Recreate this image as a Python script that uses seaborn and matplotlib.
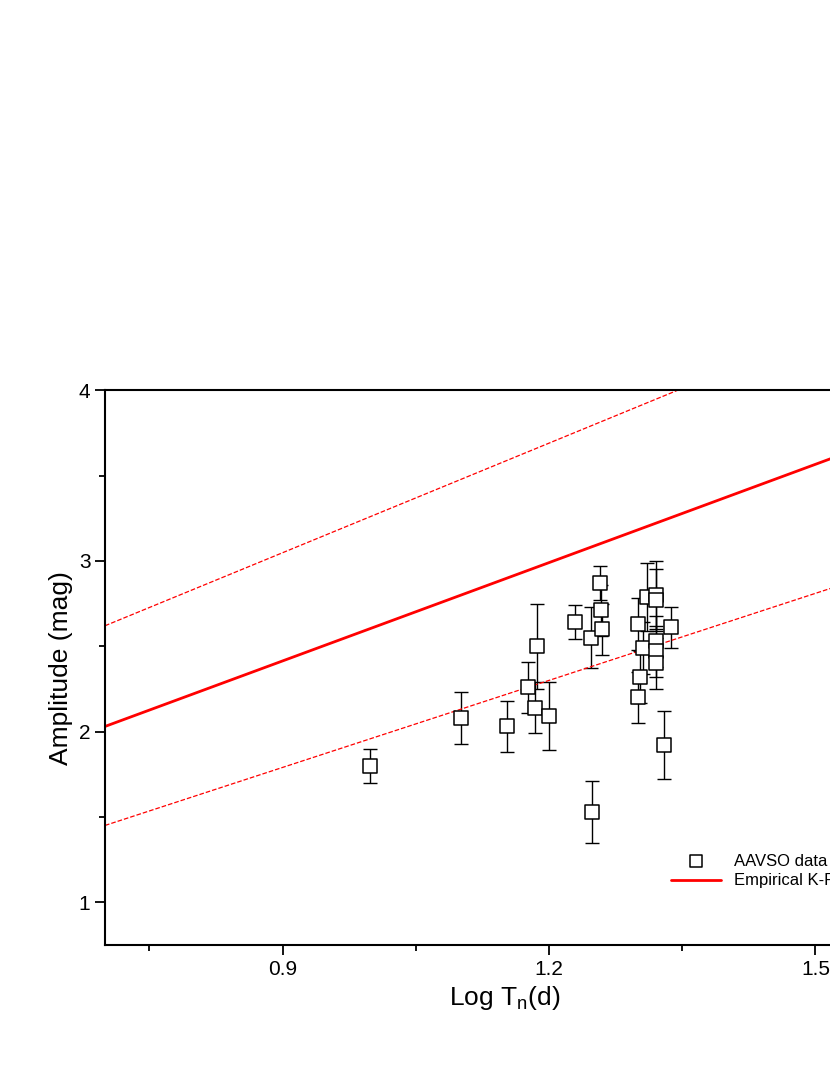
import numpy as np
import pandas as pd
import seaborn as sns
from matplotlib import pyplot as plt
from matplotlib.ticker import MultipleLocator

sns.set_style("ticks")
plt.rcParams['font.family'] = ['Liberation Sans', 'DejaVu Sans']
plt.rcParams['text.color'] = 'black'
plt.rcParams['axes.labelcolor'] = 'black'
plt.rcParams['xtick.color'] = 'black'
plt.rcParams['ytick.color'] = 'black'
plt.rcParams['axes.edgecolor'] = 'black'

# AAVSO points
log_t = [0.998, 1.101, 1.153, 1.176, 1.184, 1.186, 1.200, 1.229, 1.247, 1.248,
         1.257, 1.258, 1.260, 1.300, 1.302, 1.300, 1.310, 1.306, 1.320, 1.320,
         1.320, 1.320, 1.320, 1.329, 1.337]
amp = [1.80, 2.08, 2.03, 2.26, 2.14, 2.50, 2.09, 2.64, 2.55, 1.53,
       2.87, 2.71, 2.60, 2.63, 2.32, 2.20, 2.79, 2.49, 2.80, 2.77,
       2.53, 2.47, 2.40, 1.92, 2.61]
amp_err = [0.10, 0.15, 0.15, 0.15, 0.15, 0.25, 0.20, 0.10, 0.18, 0.18,
           0.10, 0.15, 0.15, 0.15, 0.15, 0.15, 0.20, 0.15, 0.20, 0.18,
           0.15, 0.15, 0.15, 0.20, 0.12]

# K-P relation and its bounds (value at 0.7, slope)
kp_x = [0.7, 1.6]
kp_mid = [2.03, 2.03 + 1.92 * 0.9]
kp_up = [2.62, 2.62 + 2.14 * 0.9]
kp_low = [1.45, 1.45 + 1.70 * 0.9]

df = pd.DataFrame({"logT": log_t, "amp": amp, "err": amp_err})

fig = plt.figure(figsize=(8.3, 10.75), dpi=100)
ax = fig.add_axes([0.1265, 0.121, 0.963, 0.516])

ax.errorbar(df["logT"], df["amp"], yerr=df["err"], fmt="none", ecolor="black",
            elinewidth=1, capsize=5, capthick=1, zorder=2)
sns.scatterplot(data=df, x="logT", y="amp", marker="s", s=110, facecolor="white",
                edgecolor="black", linewidth=1.1, ax=ax, zorder=3,
                label="AAVSO data of AGB stars")
sns.lineplot(x=kp_x, y=kp_mid, color="red", lw=2, ax=ax, label="Empirical K-P relation")
sns.lineplot(x=kp_x, y=kp_up, color="red", lw=0.9, ls="--", ax=ax)
sns.lineplot(x=kp_x, y=kp_low, color="red", lw=0.9, ls="--", ax=ax)

ax.set_xlim(0.7, 1.6)
ax.set_ylim(0.75, 4)
ax.xaxis.set_minor_locator(MultipleLocator(0.15))
ax.set_xticks([0.9, 1.2, 1.5])
ax.set_xticklabels(["0.9", "1.2", "1.5"])
ax.yaxis.set_major_locator(MultipleLocator(1))
ax.yaxis.set_minor_locator(MultipleLocator(0.5))
ax.tick_params(which="major", length=7, width=1.3, labelsize=15, direction="out")
ax.tick_params(which="minor", length=4, width=1.3, direction="out")
for s in ax.spines.values():
    s.set_linewidth(1.5)
ax.set_xlabel("Log T$_{\\mathregular{n}}$(d)", fontsize=19)
ax.set_ylabel("Amplitude (mag)", fontsize=19)

ax.legend(loc="upper left", bbox_to_anchor=(0.79, 0.22), bbox_transform=fig.transFigure,
          frameon=False, fontsize=12, handlelength=3, markerscale=0.8,
          labelspacing=0.3)

fig.savefig("out.png", dpi=100)
